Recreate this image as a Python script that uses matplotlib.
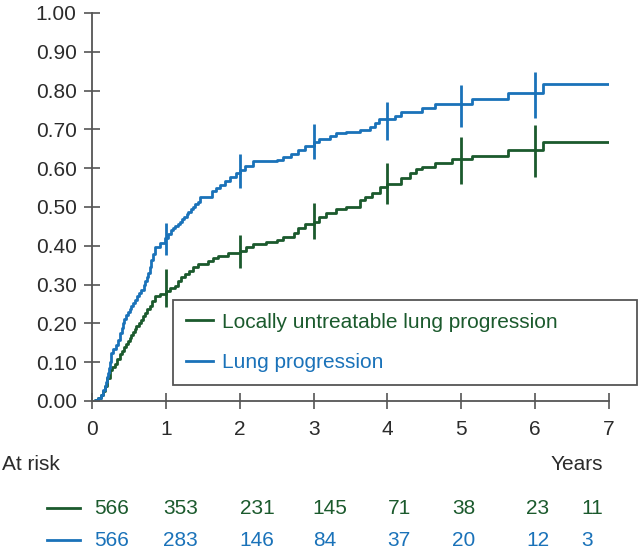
import numpy as np
import matplotlib
matplotlib.use('Agg')
import matplotlib.pyplot as plt
import matplotlib.transforms as mtransforms

plt.rcParams['font.family'] = ['Liberation Sans', 'DejaVu Sans']

green = '#1b5a2d'
blue = '#1a72b9'
grey = '#2b2b2b'

# cumulative incidence, step curves (years, probability)
lung_t = [0, 0.04, 0.08, 0.12, 0.15, 0.17, 0.19, 0.205, 0.217, 0.23, 0.24, 0.252, 0.262, 0.29,
          0.33, 0.35, 0.375, 0.40, 0.42, 0.44, 0.465, 0.49, 0.51, 0.53, 0.555, 0.58, 0.61, 0.64,
          0.67, 0.70, 0.72, 0.74, 0.758, 0.78, 0.803, 0.825, 0.848, 0.916, 0.99, 1.03, 1.07, 1.10,
          1.13, 1.16, 1.186, 1.22, 1.25, 1.28, 1.3, 1.34, 1.37, 1.40, 1.43, 1.46, 1.57, 1.62, 1.68,
          1.73, 1.80, 1.87, 1.95, 2.0, 2.07, 2.18, 2.50, 2.59, 2.70, 2.79, 2.88, 3.0, 3.08, 3.22,
          3.31, 3.44, 3.63, 3.76, 3.83, 3.88, 4.10, 4.19, 4.47, 4.65, 5.14, 5.63, 6.11, 7.0]
lung_y = [0, 0.003, 0.008, 0.015, 0.029, 0.038, 0.05, 0.061, 0.072, 0.086, 0.10, 0.112, 0.123, 0.133,
          0.144, 0.158, 0.174, 0.188, 0.20, 0.211, 0.221, 0.229, 0.237, 0.245, 0.252, 0.261, 0.27, 0.278,
          0.286, 0.298, 0.31, 0.32, 0.329, 0.346, 0.363, 0.38, 0.398, 0.406, 0.419, 0.43, 0.44, 0.445,
          0.45, 0.456, 0.462, 0.469, 0.475, 0.481, 0.487, 0.494, 0.50, 0.507, 0.513, 0.525, 0.527, 0.54, 0.548,
          0.556, 0.566, 0.578, 0.588, 0.595, 0.605, 0.618, 0.622, 0.628, 0.636, 0.648, 0.658, 0.668, 0.675, 0.684,
          0.690, 0.694, 0.698, 0.707, 0.717, 0.726, 0.735, 0.746, 0.756, 0.765, 0.778, 0.795, 0.816, 0.816]

local_t = [0, 0.04, 0.08, 0.12, 0.15, 0.17, 0.20, 0.237, 0.27, 0.307, 0.34, 0.375, 0.40, 0.43,
           0.46, 0.487, 0.51, 0.53, 0.555, 0.577, 0.60, 0.63, 0.66, 0.69, 0.72, 0.75, 0.78, 0.81,
           0.848, 0.916, 1.0, 1.06, 1.118, 1.16, 1.21, 1.26, 1.32, 1.37, 1.43, 1.57, 1.64, 1.71,
           1.84, 2.0, 2.09, 2.18, 2.36, 2.50, 2.59, 2.73, 2.79, 2.88, 3.0, 3.08, 3.17, 3.31, 3.44,
           3.63, 3.70, 3.79, 3.90, 4.0, 4.19, 4.30, 4.39, 4.47, 4.65, 4.88, 5.14, 5.63, 6.11, 7.0]
local_y = [0, 0.003, 0.008, 0.015, 0.025, 0.038, 0.058, 0.081, 0.088, 0.095, 0.108, 0.12, 0.129, 0.138,
           0.147, 0.155, 0.162, 0.17, 0.178, 0.185, 0.193, 0.20, 0.21, 0.22, 0.228, 0.237, 0.245, 0.258,
           0.271, 0.277, 0.284, 0.29, 0.297, 0.308, 0.319, 0.328, 0.336, 0.345, 0.353, 0.361, 0.368, 0.374,
           0.381, 0.387, 0.398, 0.405, 0.410, 0.415, 0.423, 0.432, 0.445, 0.456, 0.462, 0.475, 0.485, 0.494, 0.501,
           0.518, 0.527, 0.535, 0.552, 0.559, 0.574, 0.587, 0.598, 0.604, 0.613, 0.623, 0.632, 0.647, 0.667, 0.667]

# yearly confidence bars
bar_years = [1, 2, 3, 4, 5, 6]
lung_lo = [0.376, 0.549, 0.624, 0.673, 0.706, 0.729]
lung_hi = [0.459, 0.637, 0.714, 0.771, 0.814, 0.848]
local_lo = [0.242, 0.343, 0.417, 0.508, 0.559, 0.577]
local_hi = [0.340, 0.428, 0.510, 0.613, 0.680, 0.711]

# numbers at risk
risk_x = [0.03, 0.96, 2.0, 2.99, 4.0, 4.88, 5.88, 6.62]
local_risk = [566, 353, 231, 145, 71, 38, 23, 11]
lung_risk = [566, 283, 146, 84, 37, 20, 12, 3]

W, H = 638, 553
fig = plt.figure(figsize=(W / 100, H / 100), dpi=100)
ax = fig.add_axes([92 / W, 1 - 401 / H, 517 / W, 388 / H])

lw = 2.0
ax.step(local_t, local_y, where='post', color=green, lw=lw,
        label='Locally untreatable lung progression')
ax.step(lung_t, lung_y, where='post', color=blue, lw=lw, label='Lung progression')
ax.vlines(bar_years, local_lo, local_hi, color=green, lw=lw)
ax.vlines(bar_years, lung_lo, lung_hi, color=blue, lw=lw)

ax.set_xlim(0, 7)
ax.set_ylim(0, 1)
ax.set_xticks(range(8))
ax.set_yticks(np.arange(0, 1.01, 0.1))
ax.set_yticklabels(['%.2f' % v for v in np.arange(0, 1.01, 0.1)])
for s in ['top', 'right']:
    ax.spines[s].set_visible(False)
for s in ['left', 'bottom']:
    ax.spines[s].set_color('#555555')
    ax.spines[s].set_linewidth(1.3)
ax.tick_params(direction='inout', length=12, width=1.2, color='#555555',
               labelsize=15, labelcolor=grey)
ax.tick_params(axis='y', pad=5)
ax.tick_params(axis='x', pad=8)

leg = ax.legend(loc='upper left', bbox_to_anchor=(81 / 517, 16 / 388, 464 / 517, 85 / 388),
                mode='expand', frameon=True, fancybox=False, framealpha=1, fontsize=15,
                labelcolor='linecolor', handlelength=1.3, handletextpad=0.45,
                labelspacing=1.05, borderaxespad=0, borderpad=0.6)
leg.get_frame().set_edgecolor('#555555')
leg.get_frame().set_linewidth(1.3)
leg.set_clip_on(False)

fig.text(2 / W, 1 - 464 / H, 'At risk', fontsize=15, color=grey, va='center', ha='left')
fig.text(603 / W, 1 - 464 / H, 'Years', fontsize=15, color=grey, va='center', ha='right')

trans = mtransforms.blended_transform_factory(ax.transData, fig.transFigure)
for ypix, vals, col in [(508, local_risk, green), (540, lung_risk, blue)]:
    yf = 1 - ypix / H
    fig.add_artist(plt.Line2D([47 / W, 80 / W], [yf, yf], color=col, lw=lw,
                              transform=fig.transFigure))
    for x, v in zip(risk_x, vals):
        fig.text(x, yf, str(v), fontsize=15, color=col, va='center', ha='left',
                 transform=trans)

fig.savefig('out.png', dpi=100)
